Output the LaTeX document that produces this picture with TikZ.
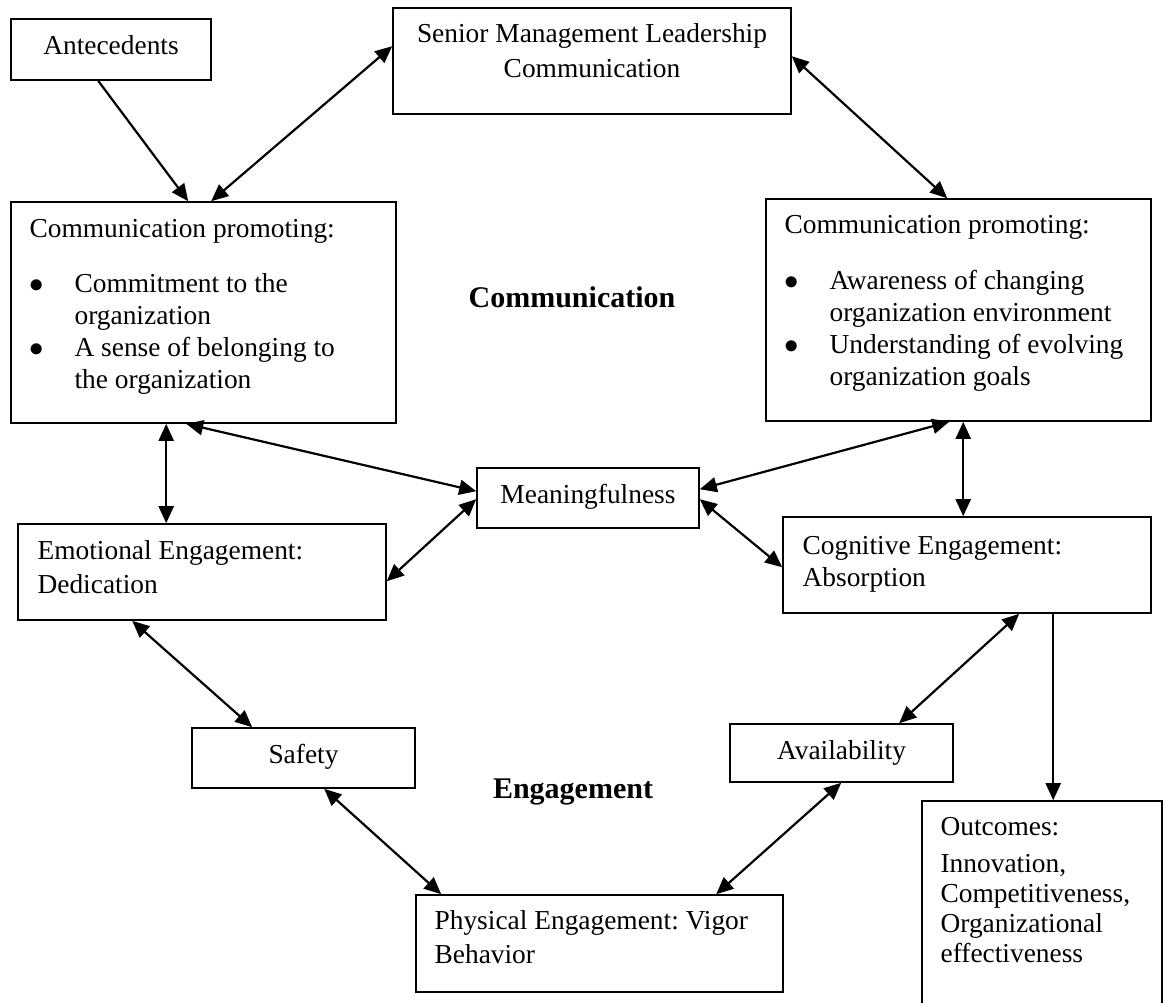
\documentclass[tikz,border=0pt]{standalone}
\usepackage{fontspec}
\setmainfont{Liberation Serif}
\usetikzlibrary{arrows.meta,calc}
\newcommand\myBul{\makebox[22.5pt][l]{\hspace*{-0.3pt}$\bullet$}}
\newcommand\myInd{\hspace*{22.5pt}}
\frenchspacing
\begin{document}
\begin{tikzpicture}[x=0.5pt,y=-0.5pt,
  every node/.style={font=\fontsize{13.7pt}{16pt}\selectfont\frenchspacing},
  box/.style={draw, line width=0.8pt, inner sep=0pt},
  txt/.style={inner sep=0pt, anchor=base west},
  ctxt/.style={inner sep=0pt, anchor=base},
  lbl/.style={inner sep=0pt, anchor=base, font=\fontsize{15pt}{17pt}\selectfont\bfseries},
  arr/.style={line width=1.1pt},
  >={Triangle[length=8.5pt,width=7.5pt]}]
\useasboundingbox (0,0) rectangle (1165,1002);

% boxes
\node[box, minimum width=100pt,   minimum height=30.5pt] (ant)   at (111,49.5)  {};
\node[box, minimum width=199pt,   minimum height=53pt]   (sen)   at (592,61)    {};
\node[box, minimum width=192.5pt, minimum height=110.5pt](lc)    at (203.5,312.5) {};
\node[box, minimum width=192.5pt, minimum height=111pt]  (rc)    at (958.5,310) {};
\node[box, minimum width=111pt,   minimum height=30pt]   (mean)  at (588,498)   {};
\node[box, minimum width=184pt,   minimum height=48pt]   (emo)   at (202,572)   {};
\node[box, minimum width=184pt,   minimum height=48pt]   (cog)   at (967,565)   {};
\node[box, minimum width=111.5pt, minimum height=30pt]   (saf)   at (303.5,758) {};
\node[box, minimum width=111.5pt, minimum height=29pt]   (avail) at (841.5,753) {};
\node[box, minimum width=183.5pt, minimum height=48.5pt] (phys)  at (599.5,943.5) {};
\node[box, minimum width=120pt,   minimum height=105pt]  (out)   at (1042,906)  {};

% texts
\node[ctxt] (antT) at ($(ant.north)+(0,36)$) {Antecedents};
\node[ctxt] (senT) at ($(sen.north)+(0,35)$) {\parbox[t]{190pt}{\centering Senior Management Leadership\\[1.5pt] Communication}};
\node[txt] (lcT) at ($(lc.north west)+(19,36)$) {\parbox[t]{180pt}{\raggedright Communication promoting:\\[11.5pt]
  \myBul Commitment to the\\ \myInd organization\\ \myBul A sense of belonging to\\ \myInd the organization}};
\node[txt] (rcT) at ($(rc.north west)+(19,35)$) {\parbox[t]{182pt}{\raggedright Communication promoting:\\[12pt]
  \myBul Awareness of changing\\ \myInd organization environment\\ \myBul Understanding of evolving\\ \myInd organization goals}};
\node[ctxt] (meanT) at ($(mean.north)+(0,36)$) {Meaningfulness};
\node[txt] (emoT) at ($(emo.north west)+(20,36)$) {\parbox[t]{175pt}{\raggedright Emotional Engagement:\\[1pt] Dedication}};
\node[txt] (cogT) at ($(cog.north west)+(20,38)$) {\parbox[t]{175pt}{\raggedright Cognitive Engagement:\\ Absorption}};
\node[ctxt] (safT) at ($(saf.north)+(0,36)$) {Safety};
\node[ctxt] (availT) at ($(avail.north)+(0,36)$) {Availability};
\node[txt] (physT) at ($(phys.north west)+(19,35)$) {\parbox[t]{175pt}{\raggedright Physical Engagement: Vigor\\[1pt] Behavior}};
\node[txt] (outT) at ($(out.north west)+(19,35)$) {\parbox[t]{108pt}{\raggedright Outcomes:\\[2.5pt] Innovation,\\[-1pt] Competitiveness,\\[-1pt] Organizational\\[-1pt] effectiveness}};

\node[lbl] (comm) at (572,307) {Communication};
\node[lbl] (eng) at (573,798) {Engagement};

% connectors
\draw[arr,->]  ($(ant.south west)+(88,0)$) -- ($(lc.north west)+(178,0)$);
\draw[arr,<->] ($(sen.north west)+(0,39)$) -- ($(lc.north west)+(201,0)$);
\draw[arr,<->] ($(sen.north east)+(0,49)$) -- ($(rc.north west)+(182,0)$);
\draw[arr,<->] ($(lc.south west)+(156,0)$) -- ($(emo.north west)+(149,0)$);
\draw[arr,<->] ($(lc.south west)+(176,0)$) -- ($(mean.north west)+(0,24)$);
\draw[arr,<->] ($(emo.north east)+(0,58)$) -- ($(mean.north west)+(0,32)$);
\draw[arr,<->] ($(rc.south west)+(184,0)$) -- ($(mean.north east)+(0,22)$);
\draw[arr,<->] ($(rc.south west)+(198,0)$) -- ($(cog.north west)+(181,0)$);
\draw[arr,<->] ($(mean.north east)+(0,32)$) -- ($(cog.north west)+(0,51)$);
\draw[arr,<->] ($(emo.south west)+(115,0)$) -- ($(saf.north west)+(61,0)$);
\draw[arr,<->] ($(saf.south west)+(133,0)$) -- ($(phys.north west)+(26,0)$);
\draw[arr,<->] ($(avail.south west)+(112,0)$) -- ($(phys.north west)+(301,0)$);
\draw[arr,<->] ($(cog.south west)+(237,0)$) -- ($(avail.north west)+(170,0)$);
\draw[arr,->]  ($(cog.south west)+(271,0)$) -- ($(out.north west)+(132,0)$);
\end{tikzpicture}
\end{document}
